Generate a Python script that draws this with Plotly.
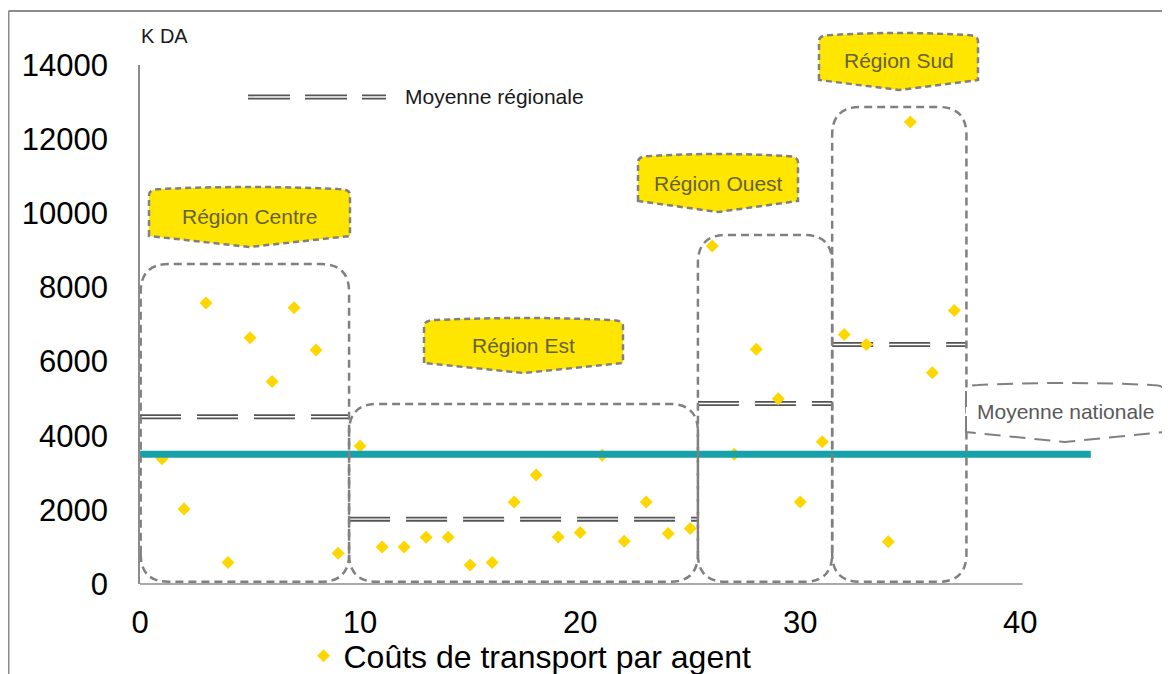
import plotly.graph_objects as go

# ---------------- DATA ----------------
agent_index = list(range(1, 38))
transport_cost = [3380, 2020, 7580, 580, 6640, 5460, 7450, 6310, 830,            # Centre
                  3720, 1000, 1000, 1260, 1260, 510, 580, 2210, 2940, 1270,
                  1390, 3470, 1150, 2210, 1360, 1500,                               # Est
                  9120, 3500, 6330, 5000, 2210, 3840,                               # Ouest
                  6730, 6460, 1140, 12460, 5700, 7380]                              # Sud
region_names = ["Région Centre", "Région Est", "Région Ouest", "Région Sud"]
region_bounds = [0, 9.5, 25.35, 31.45, 37.55]
regional_mean = [4510, 1750, 4870, 6460]
national_mean = 3500
national_line_end = 43.2
x_ticks = [0, 10, 20, 30, 40]
y_ticks = [0, 2000, 4000, 6000, 8000, 10000, 12000, 14000]
series_name = "Coûts de transport par agent"
unit_label = "K DA"
regional_label = "Moyenne régionale"
national_label = "Moyenne nationale"

# ---------------- LAYOUT CONSTANTS ----------------
OFF = 8                      # page body margin around the figure
W, H = 1170 - OFF, 674 - OFF
ML, MR, MT, MB = 140 - OFF, 22, 65 - OFF, 90
PW, PH = W - ML - MR, H - MT - MB
X_MAX, Y_MAX = 45.8, 14000
FONT = "Liberation Sans, Arial, sans-serif"
YELLOW_PT = "#FFD700"
YELLOW_BOX = "#FFE600"
TEAL = "#17A1A9"
GREY = "#808080"
DARK = "#555555"


def px(xp):  # page x pixel -> paper
    return (xp - OFF - ML) / PW


def py(yp):  # page y pixel -> paper
    return (H - MB - (yp - OFF)) / PH


fig = go.Figure()

# regional mean lines (double dashed)
for i, m in enumerate(regional_mean):
    xs = [region_bounds[i], region_bounds[i + 1]]
    fig.add_trace(go.Scatter(x=xs, y=[m, m], mode="lines",
                             line=dict(color=DARK, width=5, dash="41px,16px"),
                             hoverinfo="skip", showlegend=False))
    fig.add_trace(go.Scatter(x=xs, y=[m, m], mode="lines",
                             line=dict(color="white", width=1.4, dash="41px,16px"),
                             hoverinfo="skip", showlegend=False))

# points
fig.add_trace(go.Scatter(x=agent_index, y=transport_cost, mode="markers",
                         name=series_name,
                         marker=dict(symbol="diamond", size=10, color=YELLOW_PT,
                                     line=dict(width=0))))

# national mean
fig.add_trace(go.Scatter(x=[0, national_line_end], y=[national_mean, national_mean],
                         mode="lines", line=dict(color=TEAL, width=7),
                         hoverinfo="skip", showlegend=False))

shapes = []
annotations = []

# region boxes (rounded dashed rectangles, data coords)
box_tops = [8630, 4856, 9414, 12868]
box_bottom = 60
r_px = 28
rx = r_px / (PW / X_MAX)
ry = r_px / (PH / Y_MAX)
for i in range(4):
    x0, x1 = region_bounds[i], region_bounds[i + 1]
    if i == 0:
        x0 = 0.03
    y0, y1 = box_bottom, box_tops[i]
    path = (f"M {x0},{y0 + ry} L {x0},{y1 - ry} Q {x0},{y1} {x0 + rx},{y1} "
            f"L {x1 - rx},{y1} Q {x1},{y1} {x1},{y1 - ry} L {x1},{y0 + ry} "
            f"Q {x1},{y0} {x1 - rx},{y0} L {x0 + rx},{y0} Q {x0},{y0} {x0},{y0 + ry} Z")
    shapes.append(dict(type="path", path=path, xref="x", yref="y",
                       line=dict(color=GREY, width=2.5, dash="8px,5px"), layer="above"))


def callout(L, T, R, B, P):
    mid = (L + R) / 2
    pts = [("M", [(L, B)]), ("L", [(L, T + 8)]), ("Q", [(L, T + 2), (L + 12, T + 2)]),
           ("Q", [(mid, T - 2), (R - 12, T + 2)]), ("Q", [(R, T + 2), (R, T + 8)]),
           ("L", [(R, B)]), ("L", [(mid, P)])]
    s = ""
    for cmd, cs in pts:
        s += cmd + " " + " ".join(f"{px(a):.5f},{py(b):.5f}" for a, b in cs) + " "
    return s + "Z"


callouts = [  # L, T, R, B, P, text centre y (page pixels)
    (149, 187, 350, 236, 247, 216),
    (424, 318, 623, 363, 373, 345),
    (638, 154, 798, 201, 212, 183),
    (819, 33, 978, 80, 90, 61),
]
for name, (L, T, R, B, P, ty) in zip(region_names, callouts):
    shapes.append(dict(type="path", path=callout(L, T, R, B, P), xref="paper", yref="paper",
                       fillcolor=YELLOW_BOX, line=dict(color=GREY, width=2.5, dash="6px,4px")))
    annotations.append(dict(x=px((L + R) / 2), y=py(ty), xref="paper", yref="paper",
                            xanchor="center", yanchor="middle",
                            text=name, showarrow=False,
                            font=dict(family=FONT, size=21, color="#67613A")))

# national callout
shapes.append(dict(type="path", path=callout(966, 383, 1164, 432, 442), xref="paper", yref="paper",
                   fillcolor="white", line=dict(color=GREY, width=2, dash="16px,9px")))
annotations.append(dict(x=px(1065), y=py(411), xref="paper", yref="paper",
                        xanchor="center", yanchor="middle",
                        text=national_label, showarrow=False,
                        font=dict(family=FONT, size=21, color="#595959")))

# regional legend sample
shapes.append(dict(type="line", xref="paper", yref="paper", x0=px(248), x1=px(386),
                   y0=py(97), y1=py(97), line=dict(color=DARK, width=5, dash="42px,15px")))
shapes.append(dict(type="line", xref="paper", yref="paper", x0=px(248), x1=px(386),
                   y0=py(97), y1=py(97), line=dict(color="white", width=1.4, dash="42px,15px")))
annotations.append(dict(x=px(403), y=py(96), xref="paper", yref="paper",
                        xanchor="left", yanchor="middle",
                        text=regional_label, showarrow=False,
                        font=dict(family=FONT, size=21, color="#1a1a1a")))

# unit label
annotations.append(dict(x=px(139), y=py(36), xref="paper", yref="paper",
                        xanchor="left", yanchor="middle",
                        text=unit_label, showarrow=False,
                        font=dict(family=FONT, size=20, color="#1a1a1a")))

# x axis line (limited to 0..40)
shapes.append(dict(type="line", xref="paper", yref="paper", x0=0, x1=40.1 / X_MAX,
                   y0=0, y1=0, line=dict(color="#8c8c8c", width=1.5)))

# outer frame
shapes.append(dict(type="line", xref="paper", yref="paper", x0=px(8.5), x1=px(1175),
                   y0=py(11), y1=py(11), line=dict(color="#8c8c8c", width=2)))
shapes.append(dict(type="line", xref="paper", yref="paper", x0=px(8.5), x1=px(8.5),
                   y0=py(11), y1=py(680), line=dict(color="#8c8c8c", width=2)))

fig.update_layout(
    width=W, height=H,
    margin=dict(l=ML, r=MR, t=MT, b=MB, autoexpand=False),
    paper_bgcolor="white", plot_bgcolor="white",
    font=dict(family=FONT, color="black"),
    shapes=shapes, annotations=annotations,
    showlegend=True,
    legend=dict(orientation="h", x=px(530), xanchor="center", y=py(656), yanchor="middle",
                font=dict(family=FONT, size=32, color="black"), bgcolor="rgba(0,0,0,0)"),
    xaxis=dict(range=[0, X_MAX], tickvals=x_ticks, showgrid=False, zeroline=False,
               showline=False, ticks="", ticklabelstandoff=17, automargin=False,
               tickfont=dict(family=FONT, size=31, color="black")),
    yaxis=dict(range=[0, Y_MAX], tickvals=y_ticks, tickformat="d", showgrid=False,
               zeroline=False, automargin=False,
               showline=True, linecolor="#8c8c8c", linewidth=1.5, ticks="",
               ticklabelstandoff=24,
               tickfont=dict(family=FONT, size=31, color="black")),
)

fig.write_html("out.html")
